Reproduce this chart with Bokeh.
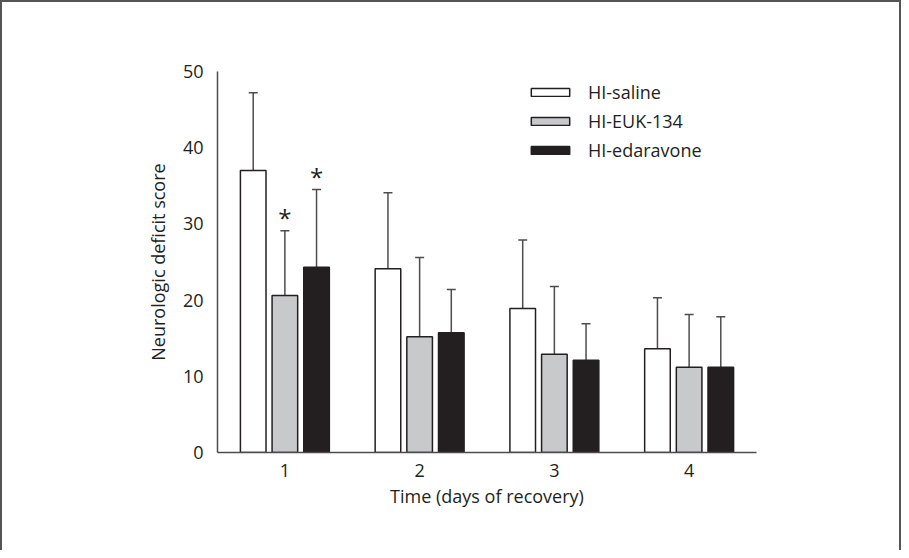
from bokeh.plotting import figure
from bokeh.models import ColumnDataSource, Whisker, TeeHead, Legend, LegendItem, FixedTicker
from bokeh.core.properties import value
from bokeh.embed import file_html
from bokeh.resources import INLINE

# ---- data ----
days = [1, 2, 3, 4]
day_labels = ["1", "2", "3", "4"]
series_names = ["HI-saline", "HI-EUK-134", "HI-edaravone"]
saline_mean = [37.0, 24.1, 18.9, 13.6]
saline_sd = [10.2, 10.0, 9.0, 6.7]
euk_mean = [20.6, 15.2, 12.9, 11.2]
euk_sd = [8.5, 10.4, 8.9, 6.9]
edar_mean = [24.3, 15.7, 12.1, 11.2]
edar_sd = [10.2, 5.7, 4.8, 6.6]
euk_sig = ["*", "", "", ""]
edar_sig = ["*", "", "", ""]
y_ticks = [0, 10, 20, 30, 40, 50]

FONT = "Open Sans"
EDGE = "#231f20"
AXC = "#4d4d4d"

p = figure(width=901, height=550, x_range=(0.5, 4.5), y_range=(0, 50),
           output_backend="svg", toolbar_location=None,
           min_border_left=215, min_border_right=147, min_border_top=69, min_border_bottom=100)
p.styles = {"border-left": "2px solid #555555", "border-top": "2px solid #555555",
            "border-right": "2px solid #555555", "box-sizing": "border-box"}
p.outline_line_color = None
p.xgrid.grid_line_color = None
p.ygrid.grid_line_color = None

series = [
    (saline_mean, saline_sd, ["", "", "", ""], "white", -0.235),
    (euk_mean, euk_sd, euk_sig, "#c8c9cb", 0.0),
    (edar_mean, edar_sd, edar_sig, "#231f20", 0.235),
]
items = []
for (m, sd, sig, fill, off), name in zip(series, series_names):
    xs = [d + off for d in days]
    src = ColumnDataSource(dict(x=xs, top=m, upper=[a + b for a, b in zip(m, sd)], sig=sig))
    r = p.vbar(x="x", top="top", bottom=0, width=0.19, source=src,
               fill_color=fill, line_color=EDGE, line_width=1.5)
    w = Whisker(source=src, base="x", lower="top", upper="upper",
                line_color=AXC, line_width=1.5, lower_head=None,
                upper_head=TeeHead(size=9, line_color=AXC, line_width=1.5))
    p.add_layout(w)
    p.text(x="x", y="upper", text="sig", source=src, text_align="center",
           text_baseline="middle", y_offset=-13, text_font=value(FONT),
           text_font_size="24px", text_color="#231f20")
    items.append(LegendItem(label=name, renderers=[r]))

legend = Legend(items=items, location=(309, 290), glyph_width=48, glyph_height=10,
                label_standoff=14, spacing=5, padding=0, margin=0,
                border_line_color=None, background_fill_alpha=0,
                label_text_font=FONT, label_text_font_size="18px", label_text_color="#231f20",
                label_height=20)
p.add_layout(legend)

p.xaxis.ticker = FixedTicker(ticks=days)
p.xaxis.major_label_overrides = {d: l for d, l in zip(days, day_labels)}
p.xaxis.minor_tick_line_color = None
p.xaxis.major_label_standoff = 5
p.xaxis.axis_label = "Time (days of recovery)"
p.yaxis.ticker = FixedTicker(ticks=y_ticks)
p.yaxis.bounds = (0, 50)
p.yaxis.major_tick_out = 6
p.yaxis.major_tick_in = 0
p.yaxis.minor_tick_line_color = None
p.yaxis.major_label_standoff = 8
p.yaxis.axis_label = "Neurologic deficit score"
for ax in (p.xaxis, p.yaxis):
    ax.axis_line_color = AXC
    ax.axis_line_width = 1.5
    ax.major_tick_line_color = AXC if ax is p.yaxis else None
    ax.major_tick_line_width = 1.5
    ax.major_label_text_font = FONT
    ax.major_label_text_font_size = "18px"
    ax.major_label_text_color = "#231f20"
    ax.axis_label_text_font = FONT
    ax.axis_label_text_font_size = "18px"
    ax.axis_label_text_font_style = "normal"
    ax.axis_label_text_color = "#231f20"
    ax.axis_label_standoff = 10
p.xaxis.axis_label_standoff = 4

open("out.html", "w").write(file_html(p, INLINE))
